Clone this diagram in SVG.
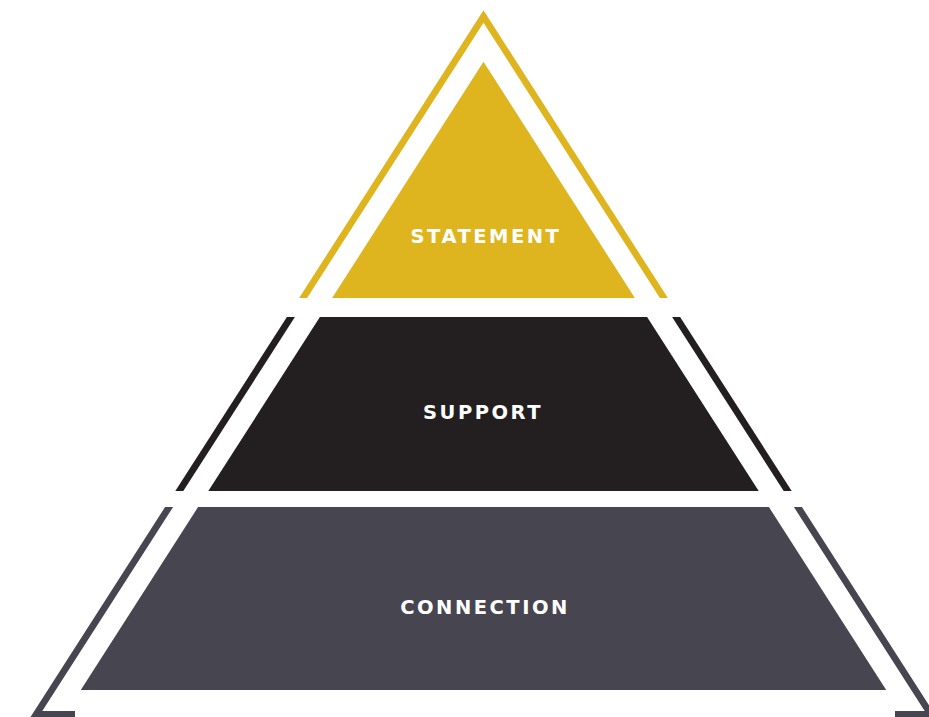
<svg xmlns="http://www.w3.org/2000/svg" width="929" height="717" viewBox="0 0 929 717">
<style>
.lbl{font-family:"DejaVu Sans","Liberation Sans",sans-serif;font-weight:bold;font-size:19.5px;fill:#ffffff;text-anchor:middle;letter-spacing:2.5px}
.y{fill:#DFB51F}
.k{fill:#231F20}
.g{fill:#464550}
</style>
<rect width="929" height="717" fill="#ffffff"/>
<g id="connectors">
<polygon class="y" points="483.5,10.3 667.9,298 659.9,298 483.5,22.7 307.1,298 299.1,298"/>
<polygon class="k" points="286.9,317 294.9,317 183.3,491 175.3,491"/>
<polygon class="k" points="672.1,317 680.1,317 791.7,491 783.7,491"/>
<polygon class="g" points="165.1,507 173.1,507 42.3,711 75,711 75,717 30.5,717"/>
<polygon class="g" points="793.9,507 801.9,507 936.5,717 895,717 895,711 924.7,711"/>
</g>
<g id="statement">
<polygon class="y" points="483.5,61.7 634.9,298 332.1,298"/>
<text class="lbl" x="486" y="243">STATEMENT</text>
</g>
<g id="support">
<polygon class="k" points="319.9,317 647.1,317 758.7,491 208.3,491"/>
<text class="lbl" x="483" y="418.5">SUPPORT</text>
</g>
<g id="connection">
<polygon class="g" points="198.1,507 768.9,507 886.2,690 80.8,690"/>
<text class="lbl" x="485" y="613.5">CONNECTION</text>
</g>
</svg>
